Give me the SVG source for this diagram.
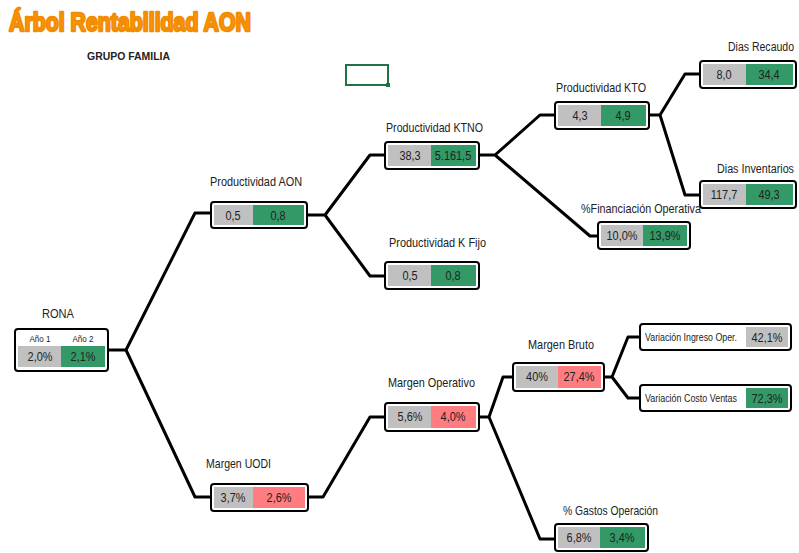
<svg xmlns="http://www.w3.org/2000/svg" width="799" height="553" viewBox="0 0 799 553">
<style>
.box{fill:#fff;stroke:#000;stroke-width:2}
.g{fill:#C0C0C0}
.gr{fill:#339966}
.rd{fill:#FF7C80}
.lbl{font-family:"Liberation Sans",Arial,sans-serif;font-size:13px;fill:#222}
.val{font-family:"Liberation Sans",Arial,sans-serif;font-size:13px;fill:#222;text-anchor:middle;transform-box:fill-box;transform-origin:center;transform:scaleX(0.84)}
.hdr{font-family:"Liberation Sans",Arial,sans-serif;font-size:9.5px;fill:#222;text-anchor:middle;transform-box:fill-box;transform-origin:center;transform:scaleX(0.85)}
.sm{font-family:"Liberation Sans",Arial,sans-serif;font-size:10.5px;fill:#222}
.con{fill:none;stroke:#000;stroke-width:3;stroke-linejoin:round}
</style>
<rect width="799" height="553" fill="#fff"/>
<text x="9" y="31" font-family="'Liberation Sans',Arial,sans-serif" font-weight="bold" font-size="25" fill="#FF9B14" stroke="#F28C00" stroke-width="2.4" stroke-linejoin="round" textLength="242" lengthAdjust="spacingAndGlyphs">Árbol Rentabilidad AON</text>
<text x="87" y="60" font-family="'Liberation Sans',Arial,sans-serif" font-weight="bold" font-size="10.5" fill="#222" textLength="83" lengthAdjust="spacingAndGlyphs">GRUPO FAMILIA</text>
<g id="cell-selection">
<rect x="346" y="65" width="42" height="20" fill="none" stroke="#217346" stroke-width="2"/>
<rect x="386" y="83" width="4" height="4" fill="#217346"/>
</g>
<g id="connectors">
<path class="con" d="M108,350 H126 L195,213 H211 M126,350 L195,497 H211"/>
<path class="con" d="M307,215 H325 L370,155 H385 M325,215 L370,276 H385"/>
<path class="con" d="M479,155 H495 L540,115 H555 M495,155 L590,236 H598"/>
<path class="con" d="M649,115 H660 L685,74 H700 M660,115 L685,195 H700"/>
<path class="con" d="M308,497 H323 L370,417 H385"/>
<path class="con" d="M479,417 H489 L503,377 H513 M489,417 L540,539 H555"/>
<path class="con" d="M604,377 H612 L628,337 H640 M612,377 L628,398 H640"/>
</g>
<g id="rona">
<text class="lbl" x="42" y="318" textLength="32" lengthAdjust="spacingAndGlyphs">RONA</text>
<rect class="box" x="15" y="329" width="93" height="42" rx="3"/>
<text class="hdr" x="40" y="342">Año 1</text>
<text class="hdr" x="83" y="342">Año 2</text>
<rect class="g" x="18" y="346" width="43" height="21"/>
<rect class="gr" x="61" y="346" width="44" height="21"/>
<text class="val" x="40" y="361">2,0%</text>
<text class="val" x="83" y="361">2,1%</text>
</g>
<g id="prod-aon">
<text class="lbl" x="210" y="186" textLength="92" lengthAdjust="spacingAndGlyphs">Productividad AON</text>
<rect class="box" x="211" y="202" width="96" height="26" rx="3"/>
<rect class="g" x="214" y="205" width="39" height="20"/>
<rect class="gr" x="253" y="205" width="51" height="20"/>
<text class="val" x="233" y="220">0,5</text>
<text class="val" x="278" y="220">0,8</text>
</g>
<g id="prod-ktno">
<text class="lbl" x="386" y="132" textLength="97" lengthAdjust="spacingAndGlyphs">Productividad KTNO</text>
<rect class="box" x="385" y="142" width="94" height="27" rx="3"/>
<rect class="g" x="388" y="145" width="43" height="21"/>
<rect class="gr" x="431" y="145" width="45" height="21"/>
<text class="val" x="410" y="160">38,3</text>
<text class="val" x="453" y="160">5.161,5</text>
</g>
<g id="prod-kfijo">
<text class="lbl" x="389" y="247" textLength="97" lengthAdjust="spacingAndGlyphs">Productividad K Fijo</text>
<rect class="box" x="385" y="262" width="94" height="27" rx="3"/>
<rect class="g" x="388" y="265" width="43" height="21"/>
<rect class="gr" x="431" y="265" width="45" height="21"/>
<text class="val" x="410" y="280">0,5</text>
<text class="val" x="453" y="280">0,8</text>
</g>
<g id="prod-kto">
<text class="lbl" x="556" y="92" textLength="90" lengthAdjust="spacingAndGlyphs">Productividad KTO</text>
<rect class="box" x="555" y="102" width="94" height="27" rx="3"/>
<rect class="g" x="558" y="105" width="43" height="21"/>
<rect class="gr" x="601" y="105" width="45" height="21"/>
<text class="val" x="580" y="120">4,3</text>
<text class="val" x="623" y="120">4,9</text>
</g>
<g id="dias-recaudo">
<text class="lbl" x="794" y="51" text-anchor="end" font-size="12" style="font-size:12px" textLength="66" lengthAdjust="spacingAndGlyphs">Dias Recaudo</text>
<rect class="box" x="700" y="61" width="96" height="27" rx="3"/>
<rect class="g" x="703" y="64" width="43" height="21"/>
<rect class="gr" x="746" y="64" width="47" height="21"/>
<text class="val" x="724" y="79">8,0</text>
<text class="val" x="769" y="79">34,4</text>
</g>
<g id="dias-inventarios">
<text class="lbl" x="794" y="173" text-anchor="end" style="font-size:12px" textLength="77" lengthAdjust="spacingAndGlyphs">Dias Inventarios</text>
<rect class="box" x="700" y="181" width="96" height="27" rx="3"/>
<rect class="g" x="703" y="184" width="43" height="21"/>
<rect class="gr" x="746" y="184" width="47" height="21"/>
<text class="val" x="724" y="199">117,7</text>
<text class="val" x="769" y="199">49,3</text>
</g>
<g id="financiacion-operativa">
<text class="lbl" x="581" y="213" textLength="120" lengthAdjust="spacingAndGlyphs">%Financiación Operativa</text>
<rect class="box" x="598" y="222" width="92" height="27" rx="3"/>
<rect class="g" x="601" y="225" width="42" height="21"/>
<rect class="gr" x="643" y="225" width="44" height="21"/>
<text class="val" x="622" y="240">10,0%</text>
<text class="val" x="665" y="240">13,9%</text>
</g>
<g id="margen-uodi">
<text class="lbl" x="206" y="468" textLength="65" lengthAdjust="spacingAndGlyphs">Margen UODI</text>
<rect class="box" x="211" y="484" width="97" height="27" rx="3"/>
<rect class="g" x="214" y="487" width="39" height="21"/>
<rect class="rd" x="253" y="487" width="52" height="21"/>
<text class="val" x="233" y="502">3,7%</text>
<text class="val" x="279" y="502">2,6%</text>
</g>
<g id="margen-operativo">
<text class="lbl" x="388" y="387" textLength="87" lengthAdjust="spacingAndGlyphs">Margen Operativo</text>
<rect class="box" x="385" y="403" width="94" height="28" rx="3"/>
<rect class="g" x="388" y="406" width="43" height="22"/>
<rect class="rd" x="431" y="406" width="45" height="22"/>
<text class="val" x="410" y="421">5,6%</text>
<text class="val" x="453" y="421">4,0%</text>
</g>
<g id="margen-bruto">
<text class="lbl" x="528" y="349" textLength="66" lengthAdjust="spacingAndGlyphs">Margen Bruto</text>
<rect class="box" x="513" y="363" width="91" height="28" rx="3"/>
<rect class="g" x="516" y="366" width="42" height="22"/>
<rect class="rd" x="558" y="366" width="43" height="22"/>
<text class="val" x="537" y="381">40%</text>
<text class="val" x="579" y="381">27,4%</text>
</g>
<g id="var-ingreso">
<rect class="box" x="640" y="324" width="151" height="26" rx="3"/>
<text class="sm" x="645" y="341" textLength="92" lengthAdjust="spacingAndGlyphs">Variación Ingreso Oper.</text>
<rect class="g" x="746" y="327" width="42" height="20"/>
<text class="val" x="767" y="342">42,1%</text>
</g>
<g id="var-costo">
<rect class="box" x="640" y="385" width="151" height="26" rx="3"/>
<text class="sm" x="645" y="402" textLength="92" lengthAdjust="spacingAndGlyphs">Variación Costo Ventas</text>
<rect class="gr" x="746" y="388" width="42" height="20"/>
<text class="val" x="767" y="403">72,3%</text>
</g>
<g id="gastos-operacion">
<text class="lbl" x="563" y="515" textLength="95" lengthAdjust="spacingAndGlyphs">% Gastos Operación</text>
<rect class="box" x="555" y="524" width="93" height="27" rx="3"/>
<rect class="g" x="558" y="527" width="42" height="21"/>
<rect class="gr" x="600" y="527" width="45" height="21"/>
<text class="val" x="579" y="542">6,8%</text>
<text class="val" x="622" y="542">3,4%</text>
</g>
</svg>
